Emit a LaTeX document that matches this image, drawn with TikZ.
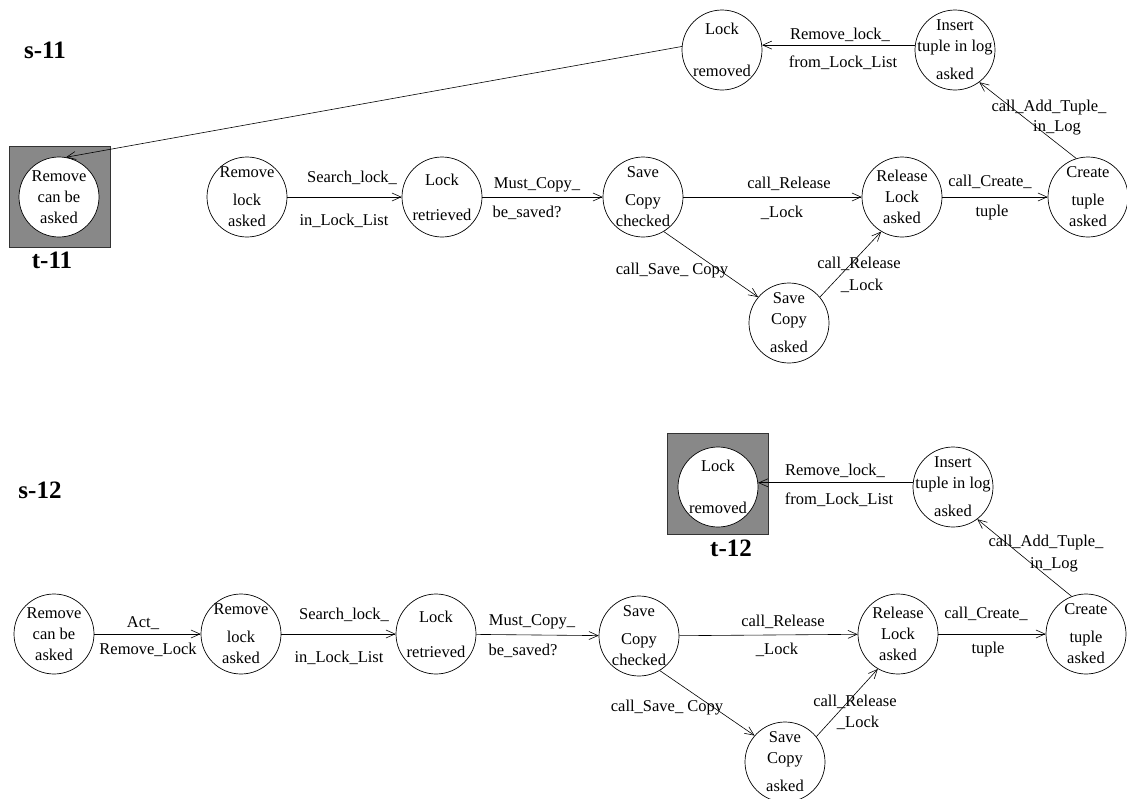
\documentclass[tikz,border=0pt]{standalone}
\usepackage{fontspec}
\setmainfont{Liberation Serif}
\usetikzlibrary{arrows.meta}
\definecolor{boxgray}{RGB}{136,136,136}

\begin{document}
\begin{tikzpicture}[
    x=1pt, y=-1pt,
    state/.style={circle, draw=black, fill=white, line width=0.7pt, minimum size=80pt, inner sep=-16pt, align=center, font=\fontsize{16.5}{21}\selectfont},
    final/.style={rectangle, draw=black!80, fill=boxgray, line width=0.7pt, minimum size=101pt},
    lbl/.style={font=\fontsize{16.5}{18}\selectfont, inner sep=0pt},
    title/.style={font=\fontsize{25}{28}\selectfont\bfseries, inner sep=0pt},
    arrow/.style={-{Straight Barb[length=9pt,width=8pt]}, line width=0.6pt}
]
    \useasboundingbox (0,0) rectangle (1127,798);

    % Scenario s-11
    \node[title] (s11) at (45,50) {s-11};
    \node[final] (t11box) at (59.5,197) {};
    \node[state] (rcb1) at (59,197) {Remove\\can be\\asked};
    \node[title] (t11) at (52,260) {t-11};
    \node[state] (rla1) at (247,197) {Remove\\[7pt]lock\\asked};
    \node[state] (lr1) at (442,197) {Lock\\[14pt]retrieved};
    \node[state] (scc1) at (643,197) {Save\\[7pt]Copy\\checked};
    \node[state] (sca1) at (789,323) {Save\\Copy\\[7pt]asked};
    \node[state] (rel1) at (902,197) {Release\\Lock\\asked};
    \node[state] (ct1) at (1088,197) {Create\\[7pt]tuple\\asked};
    \node[state] (ins1) at (955,50) {Insert\\tuple in log\\[7pt]asked};
    \node[state] (lrm1) at (722,50) {Lock\\[21pt]removed};

    % Arrows s-11
    \draw[arrow] (rla1) -- (lr1)
        node[lbl] (a1) at (352,178) {Search\_lock\_}
        node[lbl] (b1) at (344,221) {in\_Lock\_List};
    \draw[arrow] (lr1) -- (scc1)
        node[lbl] (a2) at (537,185) {Must\_Copy\_}
        node[lbl] (b2) at (527,213) {be\_saved?};
    \draw[arrow] (scc1) -- (rel1)
        node[lbl] (a3) at (789,184) {call\_Release}
        node[lbl] (b3) at (782,213) {\_Lock};
    \draw[arrow] (scc1.-59) -- (sca1.140)
        node[lbl] (a4) at (672,271) {call\_Save\_ Copy};
    \draw[arrow] (sca1.40) -- (rel1.-121)
        node[lbl] (a5) at (859,264) {call\_Release}
        node[lbl] (b5) at (862,286) {\_Lock};
    \draw[arrow] (rel1) -- (ct1)
        node[lbl] (a6) at (990,182) {call\_Create\_}
        node[lbl] (b6) at (992,213) {tuple};
    \draw[arrow] (ct1.107) -- (ins1.-53)
        node[lbl] (a7) at (1049,108) {call\_Add\_Tuple\_}
        node[lbl] (b7) at (1057,128) {in\_Log};
    \draw[arrow] (ins1.173) -- (lrm1.7)
        node[lbl] (a8) at (840,35) {Remove\_lock\_}
        node[lbl] (b8) at (843,63) {from\_Lock\_List};
    \draw[arrow] (lrm1.175) -- (rcb1.80);

    % Scenario s-12
    \node[title] (s12) at (40,490) {s-12};
    \node[state] (rcb2) at (54,634) {Remove\\can be\\asked};
    \node[state] (rla2) at (241,634) {Remove\\[7pt]lock\\asked};
    \node[state] (lr2) at (436,634) {Lock\\[14pt]retrieved};
    \node[state] (scc2) at (639,636) {Save\\[7pt]Copy\\checked};
    \node[state] (sca2) at (785,762) {Save\\Copy\\[7pt]asked};
    \node[state] (rel2) at (898,634) {Release\\Lock\\asked};
    \node[state] (ct2) at (1086,634) {Create\\[7pt]tuple\\asked};
    \node[state] (ins2) at (953,487) {Insert\\tuple in log\\[7pt]asked};
    \node[final] (t12box) at (717.5,483.5) {};
    \node[state] (lrm2) at (718,487) {Lock\\[21pt]removed};
    \node[title] (t12) at (731,548) {t-12};

    % Arrows s-12
    \draw[arrow] (rcb2) -- (rla2)
        node[lbl] (c0) at (143,623) {Act\_}
        node[lbl] (d0) at (148,650) {Remove\_Lock};
    \draw[arrow] (rla2) -- (lr2)
        node[lbl] (c1) at (344,615) {Search\_lock\_}
        node[lbl] (d1) at (339,658) {in\_Lock\_List};
    \draw[arrow] (lr2) -- (scc2)
        node[lbl] (c2) at (532,622) {Must\_Copy\_}
        node[lbl] (d2) at (523,651) {be\_saved?};
    \draw[arrow] (scc2) -- (rel2)
        node[lbl] (c3) at (783,622) {call\_Release}
        node[lbl] (d3) at (777,650) {\_Lock};
    \draw[arrow] (scc2.-59) -- (sca2.139)
        node[lbl] (c4) at (667,708) {call\_Save\_ Copy};
    \draw[arrow] (sca2.39) -- (rel2.-120)
        node[lbl] (c5) at (855,702) {call\_Release}
        node[lbl] (d5) at (858,723) {\_Lock};
    \draw[arrow] (rel2) -- (ct2)
        node[lbl] (c6) at (986,614) {call\_Create\_}
        node[lbl] (d6) at (988,650) {tuple};
    \draw[arrow] (ct2.111) -- (ins2.-53)
        node[lbl] (c7) at (1046,543) {call\_Add\_Tuple\_}
        node[lbl] (d7) at (1054,565) {in\_Log};
    \draw[arrow] (ins2.174) -- (lrm2.6)
        node[lbl] (c8) at (835,471) {Remove\_lock\_}
        node[lbl] (d8) at (839,500) {from\_Lock\_List};
\end{tikzpicture}
\end{document}
